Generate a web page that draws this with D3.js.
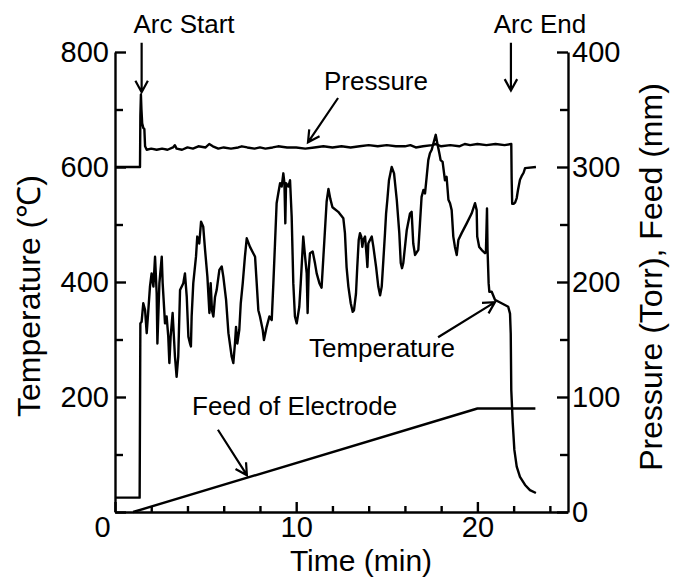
<!DOCTYPE html>
<html><head><meta charset="utf-8">
<script src="https://cdn.jsdelivr.net/npm/d3@7"></script>
<style>
body{margin:0;background:#fff}
svg{display:block}
text{font-family:"Liberation Sans",Arial,Helvetica,sans-serif;fill:#000}
</style>
</head><body>
<svg id="chart" width="673" height="578"></svg>
<script>
// ---- data (time in min) ----
const tempTime = [0,1.36,1.40,1.47,1.56,1.66,1.75,1.84,1.93,2.02,2.12,2.21,2.30,2.34,2.45,2.58,2.63,2.76,2.85,2.94,3.00,3.07,3.18,3.31,3.40,3.49,3.59,3.77,3.86,3.96,4.05,4.14,4.19,4.23,4.32,4.47,4.54,4.65,4.75,4.87,4.97,5.10,5.21,5.28,5.35,5.43,5.52,5.61,5.76,5.89,5.98,6.13,6.26,6.44,6.53,6.62,6.68,6.75,6.86,6.94,7.05,7.17,7.27,7.45,7.63,7.73,7.82,7.91,8.00,8.15,8.22,8.37,8.52,8.65,8.74,8.83,8.92,9.01,9.11,9.20,9.29,9.35,9.40,9.44,9.57,9.66,9.75,9.84,9.93,10.03,10.17,10.25,10.36,10.39,10.49,10.58,10.63,10.69,10.76,10.91,11.04,11.13,11.28,11.40,11.55,11.68,11.78,11.88,12.00,12.32,12.60,12.69,12.78,12.88,13.01,13.12,13.19,13.30,13.37,13.45,13.52,13.59,13.65,13.70,13.80,13.89,13.93,13.98,14.07,14.17,14.26,14.41,14.53,14.63,14.72,14.81,14.90,14.96,15.03,15.12,15.27,15.40,15.55,15.69,15.77,15.84,15.91,16.10,16.28,16.37,16.46,16.56,16.74,16.83,16.92,17.02,17.11,17.20,17.29,17.38,17.48,17.57,17.70,17.79,17.90,17.97,18.08,18.21,18.30,18.40,18.49,18.58,18.67,18.76,18.86,18.95,19.13,19.41,19.68,19.87,19.96,19.99,20.10,20.23,20.42,20.47,20.53,20.56,20.62,20.66,20.79,20.97,21.15,21.52,21.70,21.80,21.84,21.87,21.95,22.04,22.17,22.35,22.63,22.90,23.23];
const tempValue = [25,25,328,331,363,351,311,351,392,415,392,444,380,293,398,444,398,328,340,305,259,305,346,270,235,270,386,398,415,374,305,293,288,340,398,444,479,467,505,496,456,409,346,398,351,340,374,386,421,427,409,369,311,270,259,293,322,293,317,363,398,444,476,461,450,444,398,351,340,317,299,322,340,334,398,467,537,554,572,566,589,572,502,572,566,577,514,398,340,328,357,398,461,479,444,415,346,421,450,453,432,415,398,390,470,540,562,545,530,522,511,485,426,392,363,348,351,380,426,473,485,479,461,473,479,444,426,467,473,479,461,426,392,377,392,438,485,519,543,577,600,589,543,485,433,424,433,490,519,522,467,447,456,502,548,560,554,583,612,624,630,641,656,641,624,612,609,577,583,543,537,525,479,461,447,473,485,502,519,537,525,479,461,456,450,452,528,456,398,383,383,369,366,360,357,345,310,212,155,108,79,61,47,38,33];

const pressTime  = [0,1.38,1.40,1.43,1.46,1.50,1.56,1.62,1.66,1.75,2.0,2.3,2.6,2.9,3.2,3.3,3.4,3.7,4.0,4.3,4.6,5.0,5.2,5.4,5.7,6.0,6.4,6.8,7.0,7.3,7.7,8.0,8.3,8.7,9.0,9.5,10.0,10.5,11.0,11.5,12.0,12.5,13.0,13.5,14.0,14.5,15.0,15.5,16.0,16.3,16.6,17.0,17.5,17.7,18.0,18.5,19.0,19.3,19.6,20.0,20.5,21.0,21.5,21.87,21.89,21.92,22.0,22.08,22.17,22.24,22.35,22.44,22.55,22.63,23.23];
const pressValue = [300,300,345,363,350,338,334,333,318,315,316,315,316,315,317,319,316,315,317,316,318,317,320,318,316,317,316,317,318,317,316,317,316,317,318,317,317,316,317,318,317,318,317,318,319,318,319,318,318,319,317,318,319,320,318,319,318,320,319,320,319,320,319,320,290,268,268,269,273,280,289,292,295,299,300];

const feedTime  = [1.0,20.0,23.2];
const feedValue = [0,90,90];

const leftTicks  = [0,100,200,300,400,500,600,700,800];
const leftLabels = [200,400,600,800];
const rightTicks = [0,50,100,150,200,250,300,350,400];
const rightLabels= [0,100,200,300,400];
const timeTicks  = [0,2,4,6,8,10,12,14,16,18,20,22,24];
const timeLabels = [0,10,20];

// ---- annotations (time, left-axis units) ----
const notes = [
  {text:"Arc Start", t:3.81, v:833, anchor:"middle"},
  {text:"Arc End", t:23.45, v:833, anchor:"middle"},
  {text:"Pressure", t:11.53, v:734, anchor:"start"},
  {text:"Temperature", t:18.76, v:270, anchor:"end"},
  {text:"Feed of Electrode", t:4.25, v:169, anchor:"start"}
];
const arrows = [
  {t0:1.47, v0:816, t1:1.47, v1:730},
  {t0:21.85, v0:816, t1:21.85, v1:733},
  {t0:12.31, v0:720, t1:10.65, v1:643},
  {t0:17.83, v0:304, t1:20.97, v1:365},
  {t0:5.68, v0:143, t1:7.28, v1:64}
];

// ---- drawing ----
const svg = d3.select("#chart");
const x = d3.scaleLinear().domain([0,25]).range([115,568]);
const yL = d3.scaleLinear().domain([0,800]).range([512,52]);
const yR = d3.scaleLinear().domain([0,400]).range([512,52]);

const SW = 2.4;
const tickFont = 29;

// left axis
const gL = svg.append("g").attr("transform","translate(115,0)")
  .call(d3.axisLeft(yL).tickValues(leftTicks).tickSizeInner(-11).tickSizeOuter(0).tickPadding(6)
    .tickFormat(d => leftLabels.includes(d) ? d : ""));
gL.selectAll(".tick line").attr("x2", d => (d % 200 === 0) ? 11 : 8);

// right axis
const gR = svg.append("g").attr("transform","translate(568,0)")
  .call(d3.axisRight(yR).tickValues(rightTicks).tickSizeInner(-11).tickSizeOuter(0).tickPadding(4)
    .tickFormat(d => rightLabels.includes(d) ? d : ""));
gR.selectAll(".tick line").attr("x2", d => (d % 100 === 0) ? -11 : -8);

// bottom axis
const gB = svg.append("g").attr("transform","translate(0,512)")
  .call(d3.axisBottom(x).tickValues(timeTicks).tickSizeInner(-10).tickSizeOuter(0).tickPadding(4)
    .tickFormat(d => timeLabels.includes(d) ? d : ""));
gB.selectAll(".tick line").attr("y2", d => (d % 10 === 0) ? -10 : -6);
gB.selectAll(".tick text").filter(d => d === 0).attr("dx", -13);

[gL,gR,gB].forEach(g => {
  g.select(".domain").attr("stroke","#000").attr("stroke-width",SW);
  g.selectAll(".tick line").attr("stroke","#000").attr("stroke-width",SW);
  g.selectAll(".tick text").attr("font-size",tickFont).attr("font-family","'Liberation Sans',Arial,sans-serif").attr("fill","#000");
});

// series
const lineL = d3.line().x(d => x(d[0])).y(d => yL(d[1]));
const lineR = d3.line().x(d => x(d[0])).y(d => yR(d[1]));

svg.append("path").datum(pressTime.map((t,i)=>[t,pressValue[i]]))
  .attr("d", lineR).attr("fill","none").attr("stroke","#000").attr("stroke-width",SW).attr("stroke-linejoin","round");
svg.append("path").datum(feedTime.map((t,i)=>[t,feedValue[i]]))
  .attr("d", lineR).attr("fill","none").attr("stroke","#000").attr("stroke-width",SW).attr("stroke-linejoin","round");
svg.append("path").datum(tempTime.map((t,i)=>[t,tempValue[i]]))
  .attr("d", lineL).attr("fill","none").attr("stroke","#000").attr("stroke-width",SW).attr("stroke-linejoin","round");

// annotations
notes.forEach(n => {
  svg.append("text").attr("x", x(n.t)).attr("y", yL(n.v)).attr("text-anchor", n.anchor)
    .attr("font-size", 26).text(n.text);
});
arrows.forEach(a => {
  const x0 = x(a.t0), y0 = yL(a.v0), x1 = x(a.t1), y1 = yL(a.v1);
  const ang = Math.atan2(y1-y0, x1-x0), L = 13, W = 0.5;
  const p1 = [x1 - L*Math.cos(ang-W), y1 - L*Math.sin(ang-W)];
  const p2 = [x1 - L*Math.cos(ang+W), y1 - L*Math.sin(ang+W)];
  svg.append("path").attr("d", `M${x0},${y0}L${x1},${y1}M${p1[0]},${p1[1]}L${x1},${y1}L${p2[0]},${p2[1]}`)
    .attr("fill","none").attr("stroke","#000").attr("stroke-width",2.2).attr("stroke-linejoin","miter");
});

// axis titles
svg.append("text").attr("x", 361).attr("y", 571).attr("text-anchor","middle").attr("font-size",30).text("Time (min)");
svg.append("text").attr("transform","translate(40,296) rotate(-90)").attr("text-anchor","middle").attr("font-size",32).text("Temperature (℃)");
svg.append("text").attr("transform","translate(662,277) rotate(-90)").attr("text-anchor","middle").attr("font-size",32).text("Pressure (Torr), Feed (mm)");
</script>
</body></html>
